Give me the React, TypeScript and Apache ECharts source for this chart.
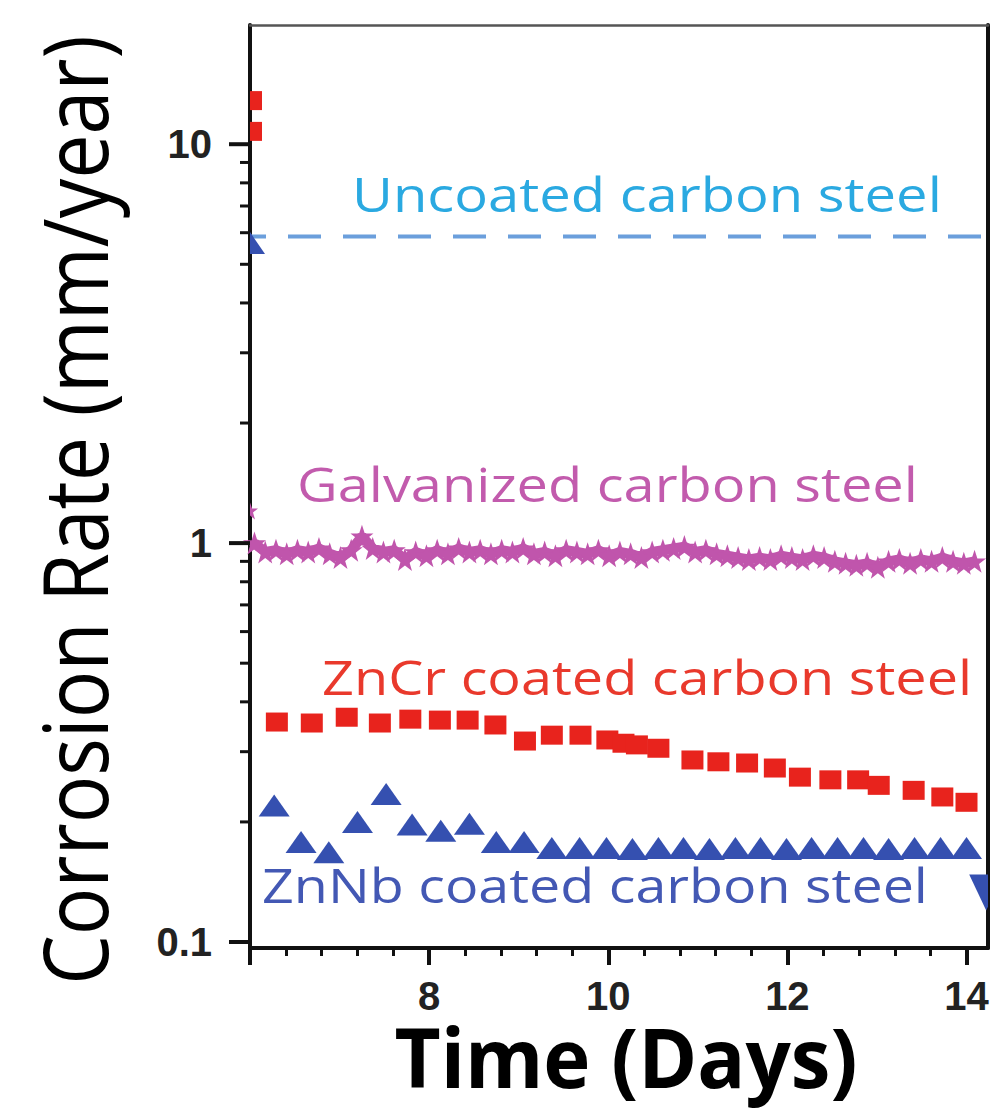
import React, { useEffect, useRef } from 'react';
import * as echarts from 'echarts';

// ---- axis ranges ----
const X_MIN = 6;
const X_MAX = 14.24;
const Y_MIN = 0.0966;
const Y_MAX = 19.9;

const xLabelValues = [8, 10, 12, 14];
const xTickValues = [6, 8, 10, 12, 14];
const yLabelValues = [0.1, 1, 10];
const yMajorTicks = [0.1, 1, 10];
const yMinorTicks = [0.2, 0.3, 0.4, 0.5, 0.6, 0.7, 0.8, 0.9, 2, 3, 4, 5, 6, 7, 8, 9];

// ---- data ----
const uncoatedX = [6, 14.24];
const uncoatedY = [5.87, 5.87];

const galvX = [
  6.05, 6.17, 6.29, 6.41, 6.53, 6.65, 6.77, 6.89, 7.01, 7.13, 7.25, 7.37, 7.49, 7.61, 7.73, 7.85, 7.97,
  8.09, 8.21, 8.33, 8.45, 8.57, 8.69, 8.81, 8.93, 9.05, 9.17, 9.29, 9.41, 9.53, 9.65, 9.77, 9.89,
  10.01, 10.13, 10.25, 10.37, 10.49, 10.61, 10.73, 10.85, 10.97, 11.09, 11.21, 11.33, 11.45, 11.57,
  11.69, 11.81, 11.93, 12.05, 12.17, 12.29, 12.41, 12.53, 12.65, 12.77, 12.89, 13.01, 13.13, 13.25,
  13.37, 13.49, 13.61, 13.73, 13.85, 13.97, 14.09,
];
const galvY = [
  1.0, 0.95, 0.96, 0.94, 0.96, 0.95, 0.97, 0.94, 0.92, 0.96, 1.04, 0.97, 0.95, 0.96, 0.91, 0.95, 0.93,
  0.96, 0.94, 0.97, 0.95, 0.96, 0.94, 0.96, 0.95, 0.97, 0.94, 0.95, 0.93, 0.96, 0.95, 0.94, 0.96,
  0.93, 0.95, 0.94, 0.92, 0.95, 0.96, 0.97, 0.98, 0.95, 0.96, 0.94, 0.93, 0.92, 0.91,
  0.92, 0.91, 0.93, 0.92, 0.91, 0.93, 0.92, 0.9, 0.89, 0.88, 0.89, 0.87, 0.9, 0.91,
  0.89, 0.91, 0.9, 0.92, 0.9, 0.89, 0.9,
];

const zncrX = [
  6.3, 6.69, 7.08, 7.45, 7.79, 8.12, 8.43, 8.74, 9.07, 9.37, 9.69, 9.99, 10.17, 10.32, 10.56,
  10.94, 11.23, 11.55, 11.86, 12.14, 12.48, 12.79, 13.02, 13.41, 13.73, 14.0,
];
const zncrY = [
  0.356, 0.354, 0.366, 0.354, 0.362, 0.36, 0.36, 0.35, 0.319, 0.33, 0.33, 0.321, 0.315, 0.312, 0.306,
  0.286, 0.283, 0.281, 0.273, 0.259, 0.255, 0.255, 0.247, 0.24, 0.231, 0.224,
];

const znnbX = [
  6.27, 6.57, 6.88, 7.2, 7.52, 7.81, 8.13, 8.45, 8.75, 9.06, 9.37, 9.68,
  9.98, 10.27, 10.56, 10.84, 11.13, 11.42, 11.7, 11.99, 12.27, 12.56, 12.85, 13.13, 13.42, 13.71, 14.0,
];
const znnbY = [
  0.22, 0.178, 0.168, 0.2, 0.235, 0.197, 0.19, 0.198, 0.178, 0.178, 0.172, 0.172,
  0.172, 0.171, 0.172, 0.172, 0.171, 0.172, 0.172, 0.171, 0.172, 0.172, 0.172, 0.171, 0.172, 0.172, 0.172,
];

// markers only partly visible at the plot edges
const edgeX = [6.0, 6.0, 6.0, 6.0, 14.22];
const edgeY = [12.9, 10.8, 5.65, 1.2, 0.133];
const edgeKind = ['zncr', 'zncr', 'znnb', 'galv', 'znnbDown'];

const labels = [
  { text: 'Uncoated carbon steel', color: '#2aa9e1', left: 352, right: 942, baseline: 212 },
  { text: 'Galvanized carbon steel', color: '#c25bad', left: 297, right: 918, baseline: 502 },
  { text: 'ZnCr coated carbon steel', color: '#e9392c', left: 322, right: 972, baseline: 695 },
  { text: 'ZnNb coated carbon steel', color: '#4358b4', left: 262, right: 928, baseline: 903 },
];

const RED = '#e8231d';
const BLUE = '#3550b0';
const MAGENTA = '#c055ac';
const DASH = '#6b9fdc';
const STAR = 'path://M50,0 L62,35 L99,35 L69,57 L80,93 L50,71 L20,93 L31,57 L1,35 L38,35 Z';

export default function App() {
  const ref = useRef<HTMLDivElement>(null);
  useEffect(() => {
    const chart = echarts.init(ref.current!, null, { renderer: 'svg' });
    const ctx = document.createElement('canvas').getContext('2d')!;
    const measure = (text: string, font: string) => {
      ctx.font = font;
      return ctx.measureText(text).width;
    };

    const annSize = 48;
    const annFamily = '"Open Sans"';
    const annotationGraphics = labels.map((l) => {
      const w = measure(l.text, `normal ${annSize}px ${annFamily}`);
      return {
        type: 'text',
        x: l.left,
        y: l.baseline - 0.388 * annSize,
        scaleX: (l.right - l.left) / w,
        silent: true,
        style: {
          text: l.text,
          fill: l.color,
          fontSize: annSize,
          fontFamily: 'Open Sans',
          fontWeight: 'normal',
          textAlign: 'left',
          textVerticalAlign: 'middle',
          align: 'left',
          verticalAlign: 'middle',
        },
      };
    });

    const yTitle = 'Corrosion Rate (mm/year)';
    const yTitleSize = 80;
    const yTitleW = measure(yTitle, `normal ${yTitleSize}px ${annFamily}`);
    const xTitle = 'Time (Days)';
    const xTitleSize = 82;
    const xTitleW = measure(xTitle, `bold ${xTitleSize}px ${annFamily}`);

    const option: any = {
      animation: false,
      backgroundColor: '#ffffff',
      grid: {
        left: 250,
        right: 8,
        top: 25,
        bottom: 164,
        containLabel: false,
        outerBoundsMode: 'none',
      },
      xAxis: [
        {
          type: 'value',
          min: X_MIN,
          max: X_MAX,
          interval: 2,
          position: 'bottom',
          axisLine: { show: true, lineStyle: { color: '#111', width: 4 } },
          axisTick: {
            show: true,
            inside: false,
            length: 17,
            customValues: xTickValues,
            lineStyle: { color: '#111', width: 4 },
          },
          minorTick: { show: true, splitNumber: 5, length: 8, lineStyle: { color: '#111', width: 3 } },
          splitLine: { show: false },
          minorSplitLine: { show: false },
          axisLabel: {
            margin: 28,
            color: '#222',
            fontSize: 40,
            fontWeight: 'bold',
            fontFamily: 'Liberation Sans',
            formatter: (v: number) => {
              const t = xLabelValues.find((a) => Math.abs(a - v) < 1e-6);
              return t === undefined ? '' : String(t);
            },
          },
        },
        {
          type: 'value',
          min: X_MIN,
          max: X_MAX,
          position: 'top',
          axisLine: { show: true, lineStyle: { color: '#555', width: 2.5 } },
          axisTick: { show: false },
          axisLabel: { show: false },
          splitLine: { show: false },
        },
      ],
      yAxis: [
        {
          type: 'log',
          logBase: 10,
          min: Y_MIN,
          max: Y_MAX,
          position: 'left',
          axisLine: { show: true, lineStyle: { color: '#111', width: 4 } },
          axisTick: { show: false },
          minorTick: { show: false },
          splitLine: { show: false },
          minorSplitLine: { show: false },
          axisLabel: {
            margin: 38,
            color: '#222',
            fontSize: 40,
            fontWeight: 'bold',
            fontFamily: 'Liberation Sans',
            formatter: (v: number) => {
              const t = yLabelValues.find((a) => Math.abs(Math.log10(v / a)) < 1e-6);
              return t === undefined ? '' : String(t);
            },
          },
        },
        {
          type: 'value',
          min: 0,
          max: 1,
          position: 'right',
          axisLine: { show: true, lineStyle: { color: '#111', width: 4 } },
          axisTick: { show: false },
          axisLabel: { show: false },
          splitLine: { show: false },
        },
      ],
      series: [
        {
          name: 'Uncoated carbon steel',
          type: 'line',
          data: uncoatedX.map((x, i) => [x, uncoatedY[i]]),
          showSymbol: false,
          symbol: 'none',
          lineStyle: { color: DASH, width: 4, type: [33, 22], dashOffset: 17 },
          z: 3,
        },
        {
          name: 'Galvanized carbon steel',
          type: 'line',
          data: galvX.map((x, i) => [x, galvY[i]]),
          symbol: STAR,
          symbolSize: 23,
          showSymbol: true,
          itemStyle: { color: MAGENTA, opacity: 1 },
          lineStyle: { color: MAGENTA, width: 10 },
          z: 3,
        },
        {
          name: 'ZnCr coated carbon steel',
          type: 'scatter',
          data: zncrX.map((x, i) => [x, zncrY[i]]),
          symbol: 'rect',
          symbolSize: [22, 19],
          itemStyle: { color: RED, opacity: 1 },
          z: 3,
        },
        {
          name: 'ZnNb coated carbon steel',
          type: 'scatter',
          data: znnbX.map((x, i) => [x, znnbY[i]]),
          symbol: 'triangle',
          symbolSize: [31, 22],
          itemStyle: { color: BLUE, opacity: 1 },
          z: 3,
        },
        {
          name: 'edge markers',
          type: 'custom',
          clip: true,
          silent: true,
          data: edgeX.map((x, i) => [x, edgeY[i]]),
          renderItem: (params: any, api: any) => {
            const kind = edgeKind[params.dataIndex];
            const p = api.coord([api.value(0), api.value(1)]);
            if (kind === 'zncr') {
              return { type: 'rect', shape: { x: p[0] - 10, y: p[1] - 9, width: 22, height: 19 }, style: { fill: RED } };
            }
            if (kind === 'znnb') {
              return {
                type: 'polygon',
                shape: { points: [[p[0], p[1] - 11], [p[0] + 15, p[1] + 11], [p[0] - 15, p[1] + 11]] },
                style: { fill: BLUE },
              };
            }
            if (kind === 'znnbDown') {
              return {
                type: 'polygon',
                shape: { points: [[p[0] - 17, p[1] - 18], [p[0] + 17, p[1] - 18], [p[0], p[1] + 18]] },
                style: { fill: BLUE },
              };
            }
            return {
              type: 'polygon',
              shape: {
                points: [
                  [p[0], p[1] - 9], [p[0] + 2, p[1] - 3], [p[0] + 8, p[1] - 3], [p[0] + 3, p[1] + 1],
                  [p[0] + 5, p[1] + 8], [p[0], p[1] + 4], [p[0] - 5, p[1] + 8], [p[0] - 3, p[1] + 1],
                  [p[0] - 8, p[1] - 3], [p[0] - 2, p[1] - 3],
                ],
              },
              style: { fill: MAGENTA },
            };
          },
          z: 4,
        },
        {
          name: 'y ticks',
          type: 'custom',
          clip: false,
          silent: true,
          data: yMajorTicks.map((v) => [X_MIN, v, 1]).concat(yMinorTicks.map((v) => [X_MIN, v, 0])),
          renderItem: (params: any, api: any) => {
            const major = api.value(2) === 1;
            const p = api.coord([api.value(0), api.value(1)]);
            const len = major ? 21 : 10;
            return {
              type: 'line',
              shape: { x1: p[0] - len, y1: p[1], x2: p[0], y2: p[1] },
              style: { stroke: '#111', lineWidth: major ? 4 : 3 },
            };
          },
          z: 5,
        },
      ],
      graphic: [
        ...annotationGraphics,
        {
          type: 'text',
          x: 74,
          y: 510,
          rotation: Math.PI / 2,
          scaleX: 950 / yTitleW,
          scaleY: 1.12,
          silent: true,
          style: {
            text: yTitle,
            fill: '#000',
            fontSize: yTitleSize,
            fontFamily: 'Open Sans',
            fontWeight: 'normal',
            textAlign: 'center',
            textVerticalAlign: 'middle',
            align: 'center',
            verticalAlign: 'middle',
          },
        },
        {
          type: 'text',
          x: 626,
          y: 1088 - 0.388 * xTitleSize,
          scaleX: 463 / xTitleW,
          silent: true,
          style: {
            text: xTitle,
            fill: '#000',
            fontSize: xTitleSize,
            fontFamily: 'Open Sans',
            fontWeight: 'bold',
            textAlign: 'center',
            textVerticalAlign: 'middle',
            align: 'center',
            verticalAlign: 'middle',
          },
        },
      ],
    };
    chart.setOption(option);
    return () => chart.dispose();
  }, []);

  return (
    <div
      ref={ref}
      style={{ position: 'absolute', left: 0, top: 0, width: 996, height: 1112, background: '#fff' }}
    />
  );
}
